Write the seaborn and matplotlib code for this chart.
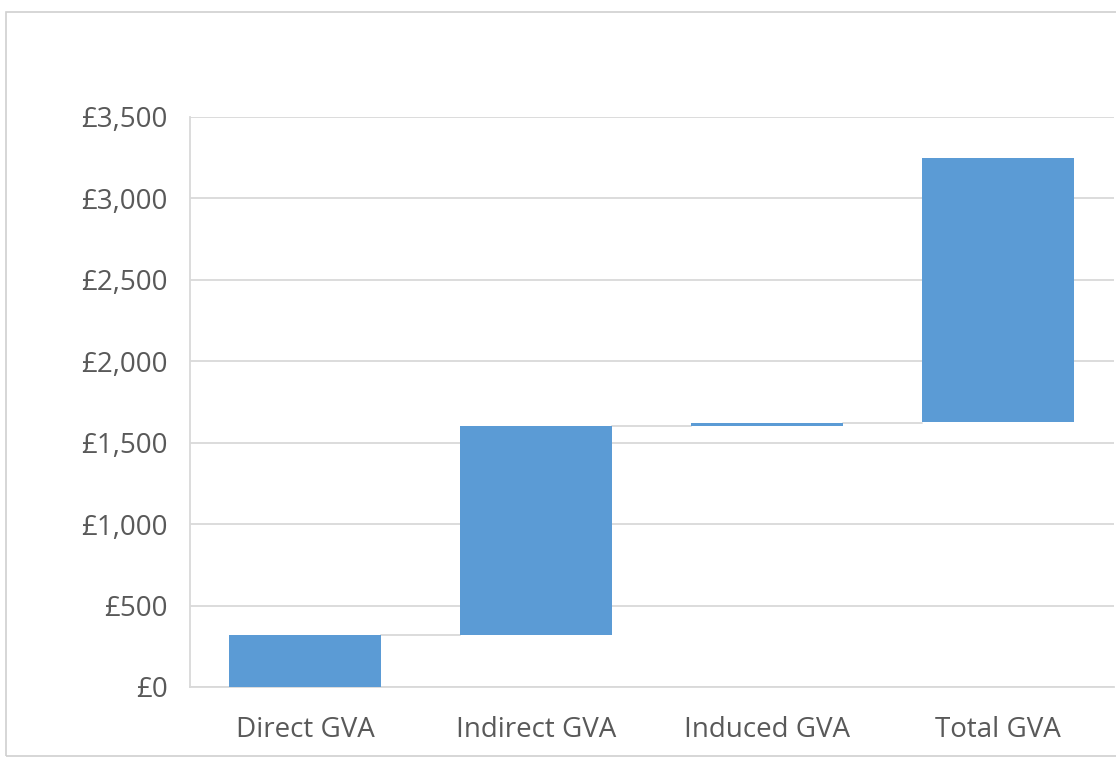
import matplotlib

matplotlib.use("Agg")
import matplotlib.pyplot as plt
import pandas as pd
import seaborn as sns
from matplotlib.patches import Rectangle
from matplotlib.ticker import FuncFormatter

categories = ["Direct GVA", "Indirect GVA", "Induced GVA", "Total GVA"]
bar_bottoms = [0, 320, 1605, 1625]
bar_tops = [320, 1605, 1620, 3250]

BAR_COLOR = "#5B9BD5"
TEXT_COLOR = "#595959"
GRID_COLOR = "#D9D9D9"


def make_chart():
    sns.set_style("white")
    plt.rcParams["font.family"] = ["Open Sans", "DejaVu Sans"]

    df = pd.DataFrame(
        {
            "category": categories,
            "bottom": bar_bottoms,
            "top": bar_tops,
        }
    )
    df["height"] = df["top"] - df["bottom"]

    fig = plt.figure(figsize=(11.16, 7.58), dpi=100)
    ax = fig.add_axes([0.170, 0.0937, 0.828, 0.752])

    width = 0.66
    sns.barplot(data=df, x="category", y="height", color=BAR_COLOR,
                saturation=1, width=width, ax=ax, zorder=3)
    for patch, b in zip(ax.patches, df["bottom"]):
        patch.set_y(b)
        patch.set_edgecolor("none")

    # connector lines between bars
    for i in range(len(df) - 1):
        level = df["top"].iloc[i]
        ax.plot([i + width / 2, i + 1 - width / 2], [level, level],
                color=GRID_COLOR, lw=1.3, zorder=2)

    ax.set_xlim(-0.5, len(df) - 0.5)
    ax.set_ylim(0, 3500)
    ax.set_yticks(range(0, 3501, 500))
    ax.yaxis.set_major_formatter(FuncFormatter(lambda v, p: f"£{v:,.0f}"))
    ax.grid(axis="y", color=GRID_COLOR, lw=1.3, zorder=0)
    ax.set_axisbelow(True)

    for side in ["top", "right"]:
        ax.spines[side].set_visible(False)
    ax.spines["left"].set_color(GRID_COLOR)
    ax.spines["bottom"].set_color(GRID_COLOR)
    ax.spines["left"].set_linewidth(1.3)
    ax.spines["bottom"].set_linewidth(1.3)

    ax.set_xlabel("")
    ax.set_ylabel("")
    ax.tick_params(axis="both", length=0, labelsize=20, colors=TEXT_COLOR)
    ax.tick_params(axis="y", pad=16)
    ax.tick_params(axis="x", pad=21)

    # outer chart frame
    fig.patches.append(Rectangle((0.005, 0.002), 1.2, 0.982, transform=fig.transFigure,
                                 fill=False, edgecolor="#D0D0D0", lw=1.2))

    fig.savefig("out.png", dpi=100)


if __name__ == "__main__":
    make_chart()
